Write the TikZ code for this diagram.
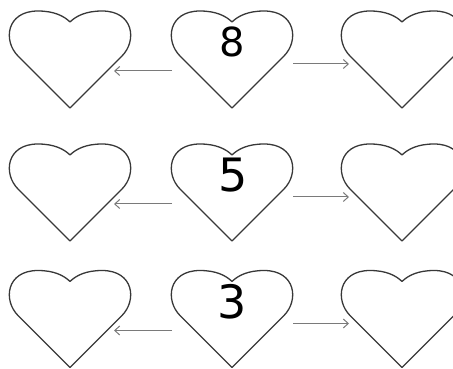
\documentclass[tikz,border=0pt]{standalone}
\usepackage{fontspec}
\setmainfont{DejaVu Sans}
\usetikzlibrary{arrows.meta,calc}
\definecolor{hline}{HTML}{383838}
\definecolor{aline}{HTML}{7A7A7A}
\tikzset{
  heartpic/.pic={
    \draw[hline,line width=1.3pt,line join=round]
      (0,0) -- (-52,52)
      .. controls (-67,67) and (-64,97) .. (-32,97)
      .. controls (-16,97) and (-6,92) .. (0,86)
      .. controls (6,92) and (16,97) .. (32,97)
      .. controls (64,97) and (67,67) .. (52,52) -- cycle;
    \coordinate (-tip) at (0,0);
  },
  arr/.style={aline,line width=1pt,-{Straight Barb[length=5pt,width=9pt]}},
  numtxt/.style={inner sep=0pt,text=black}
}
\begin{document}
\begin{tikzpicture}[x=1pt,y=1pt]
\useasboundingbox (0,0) rectangle (453,369);
% row 1
\pic (h11) at (70,261) {heartpic};
\pic (h12) at (232,261) {heartpic};
\pic (h13) at (402,261) {heartpic};
\node[numtxt,font=\fontsize{40}{40}\selectfont] (n1) at (232.5,327.5) {8};
% row 2
\pic (h21) at (70,128) {heartpic};
\pic (h22) at (232,128) {heartpic};
\pic (h23) at (402,128) {heartpic};
\node[numtxt,font=\fontsize{46}{46}\selectfont] (n2) at (233,194) {5};
% row 3
\pic (h31) at (70,1.5) {heartpic};
\pic (h32) at (232,1.5) {heartpic};
\pic (h33) at (402,1.5) {heartpic};
\node[numtxt,font=\fontsize{46}{46}\selectfont] (n3) at (232.5,67) {3};
% arrows
\foreach \r/\a/\b/\c in {1/h11/h12/h13,2/h21/h22/h23,3/h31/h32/h33}{
  \draw[arr] ($(\b-tip)+(-60,37)$) -- ($(\a-tip)+(44,37)$);
  \draw[arr] ($(\b-tip)+(61,44)$) -- ($(\c-tip)+(-53,44)$);
}
\end{tikzpicture}
\end{document}
